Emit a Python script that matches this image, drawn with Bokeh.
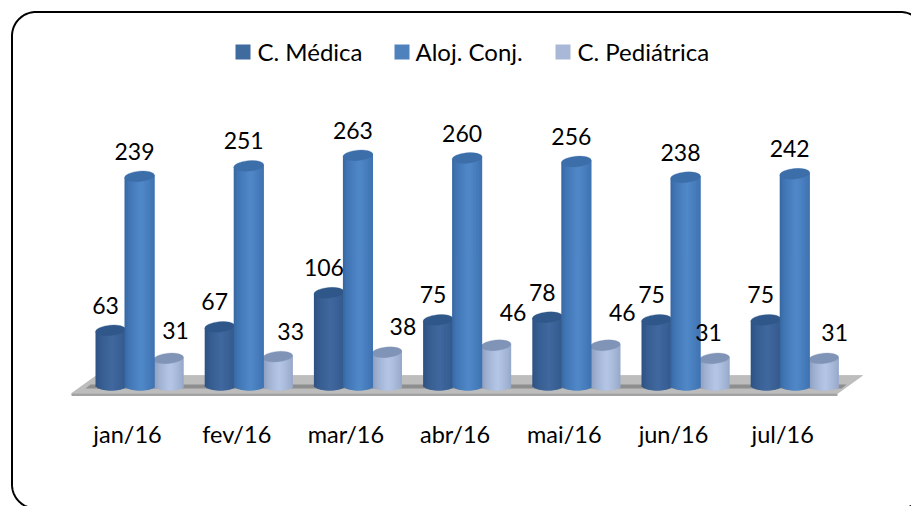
import numpy as np
from bokeh.plotting import figure
from bokeh.models import ColumnDataSource
from bokeh.core.properties import value
from bokeh.embed import file_html
from bokeh.resources import INLINE

months = ["jan/16", "fev/16", "mar/16", "abr/16", "mai/16", "jun/16", "jul/16"]
medica = [63, 67, 106, 75, 78, 75, 75]
aloj = [239, 251, 263, 260, 256, 238, 242]
pediatrica = [31, 33, 38, 46, 46, 31, 31]
series_names = ["C. Médica", "Aloj. Conj.", "C. Pediátrica"]

W, H = 911, 506
PX_PER_GROUP = 109.2
PX_PER_UNIT = 0.875
X0_PX, Y0_PX = 139, 385      # page pixel of group 0 / value 0
FONT = value("Lato")


def gx(px):   # page px -> data x
    return (px - X0_PX) / PX_PER_GROUP


def gy(py):   # page px -> data y
    return (Y0_PX - py) / PX_PER_UNIT


p = figure(width=W, height=H, output_backend="svg", toolbar_location=None,
           x_range=(gx(0), gx(W)), y_range=(gy(H), gy(0)),
           min_border=0, outline_line_color=None, background_fill_color="white")
p.axis.visible = False
p.grid.visible = False

# rounded frame (runs off the page on the right and at the bottom)
l, t, r, b, rad = 11.5, 11.5, 924, 508, 24
fx, fy = [], []
for cx, cy, a0 in ((l + rad, t + rad, np.pi), (r - rad, t + rad, 1.5 * np.pi),
                   (r - rad, b - rad, 0.0), (l + rad, b - rad, 0.5 * np.pi)):
    a = np.linspace(a0, a0 + np.pi / 2, 24)
    fx.extend(cx + rad * np.cos(a))
    fy.extend(cy + rad * np.sin(a))
fx.append(fx[0])
fy.append(fy[0])
p.line(gx(np.array(fx)), gy(np.array(fy)), line_color="black", line_width=2)

# floor
p.patch(gx(np.array([71, 96, 862, 837])), gy(np.array([393, 375, 375, 393])),
        fill_color="#bdbdbd", line_color="#a8a8a8", line_width=0.5)
p.patch(gx(np.array([85, 90, 846, 841])), gy(np.array([388, 384, 384, 388])),
        fill_color="#8e8e8e", line_color=None)
p.patch(gx(np.array([71, 837, 837, 71])), gy(np.array([393, 393, 395.5, 395.5])),
        fill_color="#a3a3a3", line_color=None)

BAR_PX = 30
OFFS = {0: -29, 1: 0, 2: 29}
RAMP = {0: ("#2a4e7e", "#41699f", "#2f5789"),
        1: ("#33639e", "#5088c9", "#3c6ea9"),
        2: ("#8294b6", "#b5c6e6", "#8094b8")}
N = 20


def hexrgb(h):
    return np.array([int(h[i:i + 2], 16) for i in (1, 3, 5)], float)


def cylinder(vals, idx):
    edge, mid, top = RAMP[idx]
    e, m = hexrgb(edge), hexrgb(mid)
    cols = []
    for j in range(N):
        u = (j + 0.5) / N * 2 - 1
        k = np.clip(1 - abs(u - 0.1) / 1.1, 0, 1) ** 0.55
        c = e + (m - e) * k
        cols.append("#%02x%02x%02x" % tuple(int(q) for q in c))
    L, R, T, B, C = [], [], [], [], []
    w = BAR_PX / PX_PER_GROUP
    for i, v in enumerate(vals):
        cx = i + OFFS[idx] / PX_PER_GROUP
        for j in range(N):
            u = (j + 0.5) / N * 2 - 1
            L.append(cx - w / 2 + w * j / N)
            R.append(cx - w / 2 + w * min(j + 2, N) / N)
            T.append(v + u * 1.2 / PX_PER_UNIT)
            B.append(-5.0 / PX_PER_UNIT * np.sqrt(max(0, 1 - u * u)))
            C.append(cols[j])
    p.quad(left="l", right="r", top="t", bottom="b", fill_color="c", line_color=None,
           source=ColumnDataSource(dict(l=L, r=R, t=T, b=B, c=C)))
    xs = [i + OFFS[idx] / PX_PER_GROUP for i in range(len(vals))]
    p.ellipse(xs, vals, width=BAR_PX, height=10.5, width_units="screen", height_units="screen",
              angle=0.09, fill_color=top, line_color=top, line_width=0.3)


cylinder(medica, 0)
cylinder(pediatrica, 2)
cylinder(aloj, 1)

# data labels
med_dx = [-5] * 7
med_dy = [25] * 7
alo_dx = [-5] * 7
alo_dy = [25] * 7
ped_dx = [7, 13, 16, 17, 17, -6, 11]
ped_dy = [28, 25, 26, 33, 33, 26, 26]
for vals, idx, dx, dy in ((medica, 0, med_dx, med_dy), (aloj, 1, alo_dx, alo_dy), (pediatrica, 2, ped_dx, ped_dy)):
    xs = [i + (OFFS[idx] + d) / PX_PER_GROUP for i, d in enumerate(dx)]
    ys = [v + d / PX_PER_UNIT for v, d in zip(vals, dy)]
    p.text(xs, ys, text=[str(v) for v in vals], text_font=FONT, text_font_size="23px",
           text_align="center", text_baseline="middle", text_color="black")

# category labels
p.text([i - 12 / PX_PER_GROUP for i in range(len(months))], [gy(433.5)] * len(months), text=months,
       text_font=FONT, text_font_size="23.5px", text_align="center", text_baseline="middle", text_color="black")

# legend
leg_sq = [242.5, 401.5, 562.5]
leg_tx = [257, 415, 577]
leg_col = ["#3f6b9f", "#4f81bd", "#a9b8d6"]
p.rect(gx(np.array(leg_sq)), [gy(51.5)] * 3, width=15, height=15, width_units="screen", height_units="screen",
       fill_color=leg_col, line_color=None)
p.text(gx(np.array(leg_tx)), [gy(51)] * 3, text=series_names, text_font=FONT, text_font_size="24px",
       text_align="left", text_baseline="middle", text_color="black")

open("out.html", "w").write(file_html(p, INLINE))
